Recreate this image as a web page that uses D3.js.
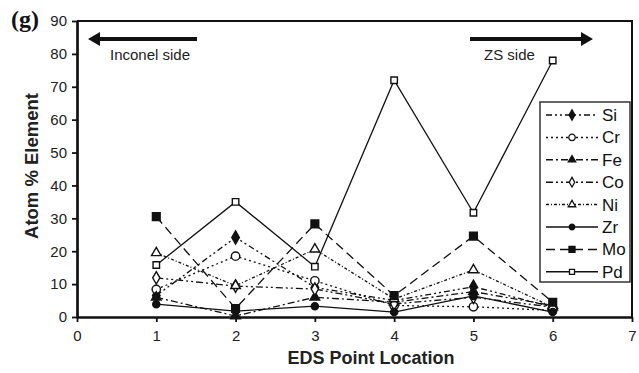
<!DOCTYPE html>
<html>
<head>
<meta charset="utf-8">
<title>EDS atom % element</title>
<script src="https://d3js.org/d3.v7.min.js"></script>
<style>
    body { margin: 0; background: #fff; }
    svg { display: block; font-family: "Liberation Sans", Arial, sans-serif; }
    .tick text { font-size: 15px; fill: #222; }
</style>
</head>
<body>
<svg width="639" height="373"></svg>
<script>

    // values
    var points = [1, 2, 3, 4, 5, 6];
    var xTicks = [0, 1, 2, 3, 4, 5, 6, 7];
    var yTicks = [0, 10, 20, 30, 40, 50, 60, 70, 80, 90];

    var si = [6.5, 24.2, 9.0, 5.0, 9.2, 3.0];
    var cr = [8.4, 18.5, 11.0, 3.5, 3.1, 2.0];
    var fe = [6.0, 0.3, 6.0, 4.5, 7.7, 3.5];
    var co = [11.9, 9.4, 8.5, 4.0, 6.0, 3.0];
    var ni = [19.5, 9.5, 20.6, 5.5, 14.3, 3.0];
    var zr = [3.9, 1.8, 3.3, 1.5, 6.4, 1.5];
    var mo = [30.5, 2.6, 28.3, 6.5, 24.6, 4.5];
    var pd = [15.8, 35.0, 15.3, 72.0, 31.7, 78.0];

    var names = ["Si", "Cr", "Fe", "Co", "Ni", "Zr", "Mo", "Pd"];

    // style per element
    var look = {
        Si: { sym: d3.symbolDiamond, size: 50, fill: true, dash: "6,3,2,3,2,3" },
        Cr: { sym: d3.symbolCircle, size: 55, fill: false, dash: "2,3" },
        Fe: { sym: d3.symbolTriangle, size: 40, fill: true, dash: "7,3,2,3" },
        Co: { sym: d3.symbolDiamond, size: 45, fill: false, dash: "7,3,2,3,2,3" },
        Ni: { sym: d3.symbolTriangle, size: 40, fill: false, dash: "3,2,1,2" },
        Zr: { sym: d3.symbolCircle, size: 40, fill: true, dash: null },
        Mo: { sym: d3.symbolSquare, size: 60, fill: true, dash: "9,5" },
        Pd: { sym: d3.symbolSquare, size: 42, fill: false, dash: null }
    };

    var values = { Si: si, Cr: cr, Fe: fe, Co: co, Ni: ni, Zr: zr, Mo: mo, Pd: pd };
    var series = names.map(function(n) {
        return { name: n, pts: points.map(function(p, i) { return { x: p, y: values[n][i] }; }) };
    });

    var svg = d3.select("svg");
    var plotL = 77, plotR = 632, plotT = 21, plotB = 317;

    var x = d3.scaleLinear().domain([0, 7]).range([plotL, plotR]);
    var y = d3.scaleLinear().domain([0, 90]).range([plotB, plotT]);

    // frame (top + right)
    svg.append("path")
        .attr("d", "M" + plotL + "," + plotT + "H" + plotR + "V" + plotB)
        .attr("fill", "none").attr("stroke", "#111").attr("stroke-width", 2);

    var xAxis = svg.append("g")
        .attr("transform", "translate(0," + plotB + ")")
        .call(d3.axisBottom(x).tickValues(xTicks).tickFormat(d3.format("d"))
            .tickSize(5).tickPadding(8).tickSizeOuter(0));
    var yAxis = svg.append("g")
        .attr("transform", "translate(" + plotL + ",0)")
        .call(d3.axisLeft(y).tickValues(yTicks).tickFormat(d3.format("d"))
            .tickSize(5).tickPadding(5).tickSizeOuter(0));
    xAxis.select(".domain").attr("stroke", "#111").attr("stroke-width", 2.7);
    yAxis.select(".domain").attr("stroke", "#111").attr("stroke-width", 2.7);
    svg.selectAll(".tick line").attr("stroke", "#111").attr("stroke-width", 1.8);
    svg.selectAll(".tick text").attr("font-family", "Liberation Sans, Arial, sans-serif");

    var line = d3.line().x(function(d) { return x(d.x); }).y(function(d) { return y(d.y); });

    var g = svg.append("g");
    series.forEach(function(s) {
        var st = look[s.name];
        g.append("path")
            .datum(s.pts)
            .attr("d", line)
            .attr("fill", "none")
            .attr("stroke", "#111")
            .attr("stroke-width", 1.3)
            .attr("stroke-dasharray", st.dash);
    });
    series.forEach(function(s) {
        var st = look[s.name];
        g.selectAll(null)
            .data(s.pts)
            .enter().append("path")
            .attr("transform", function(d) { return "translate(" + x(d.x) + "," + y(d.y) + ")"; })
            .attr("d", d3.symbol().type(st.sym).size(st.size))
            .attr("fill", st.fill ? "#111" : "#fff")
            .attr("stroke", "#111")
            .attr("stroke-width", 1.4);
    });

    // legend
    var lg = svg.append("g");
    lg.append("rect")
        .attr("x", 540).attr("y", 102).attr("width", 90).attr("height", 180)
        .attr("fill", "#fff").attr("stroke", "#333").attr("stroke-width", 1.5);
    names.forEach(function(n, i) {
        var st = look[n];
        var ly = 115 + i * 22.4;
        lg.append("line")
            .attr("x1", 546).attr("x2", 598).attr("y1", ly).attr("y2", ly)
            .attr("stroke", "#111").attr("stroke-width", 1.5)
            .attr("stroke-dasharray", st.dash);
        lg.append("path")
            .attr("transform", "translate(572," + ly + ")")
            .attr("d", d3.symbol().type(st.sym).size(st.size * 0.6))
            .attr("fill", st.fill ? "#111" : "#fff")
            .attr("stroke", "#111").attr("stroke-width", 1.3);
        lg.append("text")
            .attr("x", 602).attr("y", ly + 6)
            .attr("font-size", 17).attr("fill", "#111")
            .text(n);
    });

    // side arrows
    function arrow(x0, x1, yy) {
        var dir = x1 > x0 ? 1 : -1;
        var base = x1 - dir * 12;
        svg.append("line")
            .attr("x1", x0).attr("x2", base).attr("y1", yy).attr("y2", yy)
            .attr("stroke", "#111").attr("stroke-width", 4);
        svg.append("path")
            .attr("d", "M" + x1 + "," + yy + "L" + base + "," + (yy - 7) + "L" + base + "," + (yy + 7) + "Z")
            .attr("fill", "#111");
    }
    arrow(197, 88, 39);
    arrow(470, 593, 39);

    svg.append("text").attr("x", 110).attr("y", 60).attr("font-size", 15).attr("fill", "#222").text("Inconel side");
    svg.append("text").attr("x", 484).attr("y", 60).attr("font-size", 15).attr("fill", "#222").text("ZS side");

    // axis titles
    svg.append("text")
        .attr("x", 371).attr("y", 364)
        .attr("text-anchor", "middle")
        .attr("font-size", 18).attr("font-weight", "bold").attr("fill", "#222")
        .text("EDS Point Location");
    svg.append("text")
        .attr("transform", "translate(38,166) rotate(-90)")
        .attr("text-anchor", "middle")
        .attr("font-size", 18.5).attr("font-weight", "bold").attr("fill", "#222")
        .text("Atom % Element");

    svg.append("text")
        .attr("x", 11).attr("y", 27)
        .attr("font-family", "Liberation Serif, Times New Roman, serif")
        .attr("font-size", 24).attr("font-weight", "bold").attr("fill", "#111")
        .text("(g)");

</script>
</body>
</html>
